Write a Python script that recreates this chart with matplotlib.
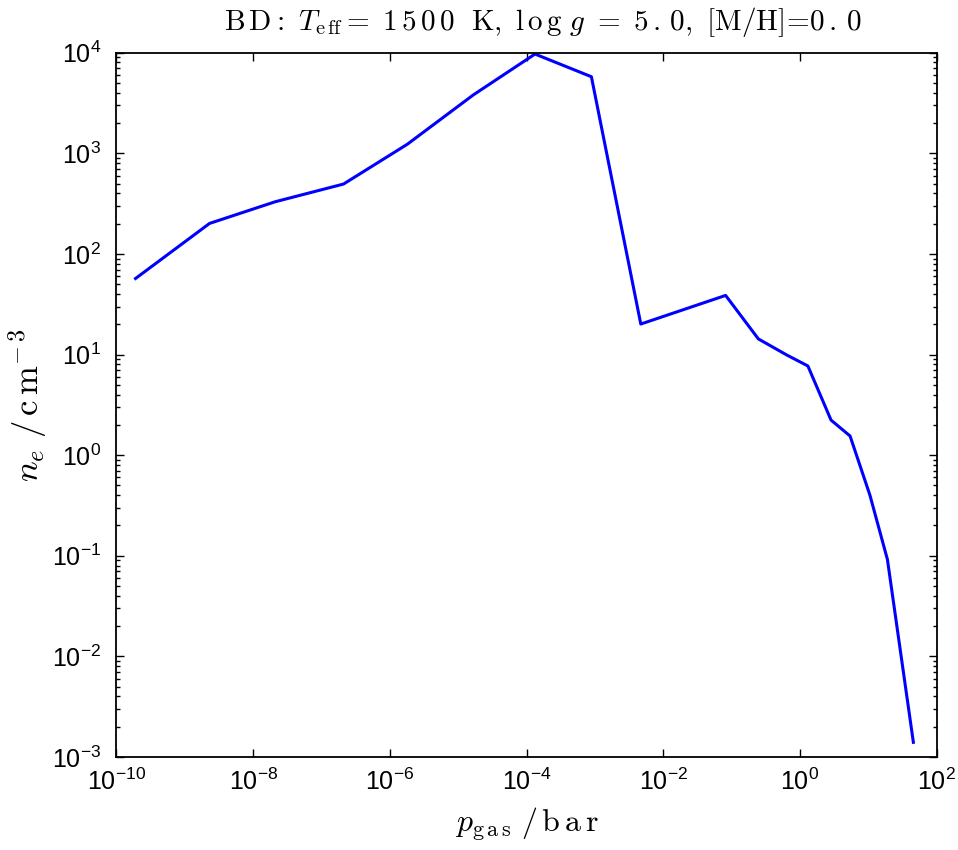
import numpy as np
import matplotlib
matplotlib.use("Agg")
import matplotlib.pyplot as plt
from matplotlib.ticker import LogLocator, NullLocator, FixedLocator, LogFormatterSciNotation

plt.rcParams['font.family'] = ['Liberation Sans', 'DejaVu Sans']

# Data
p_gas = [1.9e-10, 2.3e-9, 2.1e-8, 2.1e-7, 1.8e-6, 1.66e-5, 1.33e-4, 8.9e-4,
         4.7e-3, 8.2e-2, 0.247, 0.643, 1.31, 2.86, 5.43, 10.6, 19.1, 45.8]
n_e = [57, 201, 330, 495, 1230, 3800, 9700, 5770,
       20.1, 38.7, 14.3, 9.9, 7.7, 2.23, 1.55, 0.40, 0.092, 0.0014]
x_ticks = [1e-10, 1e-8, 1e-6, 1e-4, 1e-2, 1e0, 1e2]
y_ticks = [1e-3, 1e-2, 1e-1, 1e0, 1e1, 1e2, 1e3, 1e4]

fig = plt.figure(figsize=(9.58, 8.5), dpi=100)
ax = fig.add_axes([0.1216, 0.1094, 0.9776 - 0.1216, 0.938 - 0.1094])

ax.plot(p_gas, n_e, color=(0, 0, 1), lw=2.2)
ax.set_xscale('log')
ax.set_yscale('log')
ax.set_xlim(1e-10, 1e2)
ax.set_ylim(1e-3, 1e4)

ax.xaxis.set_major_locator(FixedLocator(x_ticks))
ax.xaxis.set_major_formatter(LogFormatterSciNotation())
ax.xaxis.set_minor_locator(NullLocator())
ax.yaxis.set_major_locator(FixedLocator(y_ticks))
ax.yaxis.set_major_formatter(LogFormatterSciNotation())
ax.yaxis.set_minor_locator(LogLocator(base=10, subs=np.arange(2, 10), numticks=20))

ax.tick_params(which='both', direction='in', top=True, right=True, width=1.0)
ax.tick_params(which='major', length=6, labelsize=18)
ax.tick_params(axis='x', which='major', pad=8)
ax.tick_params(axis='y', which='major', pad=11)
ax.tick_params(which='minor', length=3)
for s in ax.spines.values():
    s.set_linewidth(1.3)

ax.set_title(r'$\mathrm{B\,D{:}}\ T_{\mathrm{e\,ff}}=\ \mathrm{1\,5\,0\,0}\ \ \mathrm{K},\ '
             r'\mathrm{l\,o\,g}\ g\ =\ \mathrm{5\,.\,0},\ [\mathrm{M/H}]\!=\!\mathrm{0\,.\,0}$',
             fontsize=21, math_fontfamily='cm', pad=16, x=0.52)
ax.set_xlabel(r'$p_{\mathrm{g\,a\,s}}\ /\,\mathrm{b\,a\,r}$', fontsize=23, math_fontfamily='cm', labelpad=8)
ax.set_ylabel(r'$n_{e}\ /\,\mathrm{c\,m}^{-\,3}$', fontsize=25, math_fontfamily='cm', labelpad=2)

fig.savefig('out.png', dpi=100)
